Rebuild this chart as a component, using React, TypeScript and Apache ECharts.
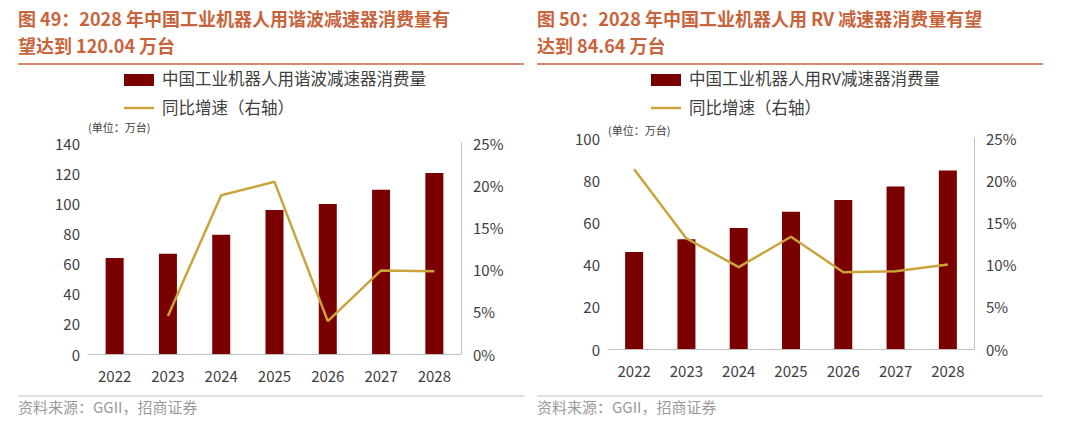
import { useEffect, useRef } from 'react';
import * as echarts from 'echarts';

const years = ['2022', '2023', '2024', '2025', '2026', '2027', '2028'];
const harmonicVolume = [63.7, 66.5, 79.2, 95.6, 99.5, 109, 120.04];
const harmonicGrowth = [null, 4.5, 18.8, 20.4, 3.9, 9.9, 9.8];
const rvVolume = [46, 52, 57.3, 65, 70.6, 77, 84.64];
const rvGrowth = [21.3, 13.1, 9.7, 13.3, 9.1, 9.2, 10];

const BAR = '#7a0000';
const LINE = '#c9a43c';
const TITLE = '#c8643c';
const FONT = '"Noto Sans CJK SC", "Noto Sans", sans-serif';

export default function App() {
  const ref = useRef<HTMLDivElement>(null);

  useEffect(() => {
    if (!ref.current) return;
    const chart = echarts.init(ref.current, null, { renderer: 'svg' });

    const axisLabel = { color: '#404040', fontSize: 15, fontFamily: FONT };
    const catAxis = (gi: number) => ({
      type: 'category' as const,
      gridIndex: gi,
      data: years,
      axisTick: { show: false },
      axisLine: { lineStyle: { color: '#bfbfbf' } },
      axisLabel: { ...axisLabel, margin: 14 },
    });
    const valAxis = (gi: number, max: number, interval: number, pct: boolean) => ({
      type: 'value' as const,
      gridIndex: gi,
      min: 0,
      max,
      interval,
      position: pct ? ('right' as const) : ('left' as const),
      splitLine: { show: false },
      axisLine: { show: true, lineStyle: { color: pct ? '#bfbfbf' : 'transparent' } },
      axisTick: { show: false },
      axisLabel: { ...axisLabel, formatter: pct ? '{value}%' : '{value}', margin: pct ? 12 : 8 },
    });

    const panelGraphics = (x0: number, title: string[], barName: string, lx: number, uy: number, ux: number) => [
      { type: 'text', left: x0, top: 9, style: { text: title[0], fill: TITLE, font: `bold 18px ${FONT}` } },
      { type: 'text', left: x0, top: 36, style: { text: title[1], fill: TITLE, font: `bold 18px ${FONT}` } },
      { type: 'line', shape: { x1: x0, y1: 64, x2: x0 + 506, y2: 64 }, style: { stroke: TITLE, lineWidth: 1.5 } },
      { type: 'rect', shape: { x: lx, y: 74, width: 30, height: 12 }, style: { fill: BAR } },
      { type: 'text', left: lx + 38, top: 70, style: { text: barName, fill: '#404040', font: `16.5px ${FONT}` } },
      { type: 'line', shape: { x1: lx, y1: 108, x2: lx + 30, y2: 108 }, style: { stroke: LINE, lineWidth: 2.5 } },
      { type: 'text', left: lx + 38, top: 99, style: { text: '同比增速（右轴）', fill: '#404040', font: `16.5px ${FONT}` } },
      { type: 'text', left: ux, top: uy, style: { text: '(单位：万台)', fill: '#404040', font: `11px ${FONT}` } },
      { type: 'line', shape: { x1: x0, y1: 396, x2: x0 + 506, y2: 396 }, style: { stroke: '#bfbfbf', lineWidth: 1 } },
      { type: 'text', left: x0, top: 399, style: { text: '资料来源：GGII，招商证券', fill: '#9a9a9a', font: `15px ${FONT}` } },
    ];

    chart.setOption({
      animation: false,
      backgroundColor: '#fff',
      grid: [
        { left: 88, top: 143, width: 373, height: 211 },
        { left: 608, top: 138, width: 366, height: 211 },
      ],
      xAxis: [catAxis(0), catAxis(1)],
      yAxis: [
        valAxis(0, 140, 20, false),
        valAxis(0, 25, 5, true),
        valAxis(1, 100, 20, false),
        valAxis(1, 25, 5, true),
      ],
      series: [
        { type: 'bar', xAxisIndex: 0, yAxisIndex: 0, data: harmonicVolume, barWidth: 18, itemStyle: { color: BAR } },
        { type: 'line', xAxisIndex: 0, yAxisIndex: 1, data: harmonicGrowth, symbol: 'none', lineStyle: { color: LINE, width: 2.5 } },
        { type: 'bar', xAxisIndex: 1, yAxisIndex: 2, data: rvVolume, barWidth: 18, itemStyle: { color: BAR } },
        { type: 'line', xAxisIndex: 1, yAxisIndex: 3, data: rvGrowth, symbol: 'none', lineStyle: { color: LINE, width: 2.5 } },
      ],
      graphic: [
        ...panelGraphics(18, ['图 49：2028 年中国工业机器人用谐波减速器消费量有', '望达到 120.04 万台'], '中国工业机器人用谐波减速器消费量', 124, 121, 88),
        ...panelGraphics(537, ['图 50：2028 年中国工业机器人用 RV 减速器消费量有望', '达到 84.64 万台'], '中国工业机器人用RV减速器消费量', 651, 124, 608),
      ],
    });

    return () => chart.dispose();
  }, []);

  return <div ref={ref} style={{ position: 'fixed', left: 0, top: 0, width: 1080, height: 426 }} />;
}
